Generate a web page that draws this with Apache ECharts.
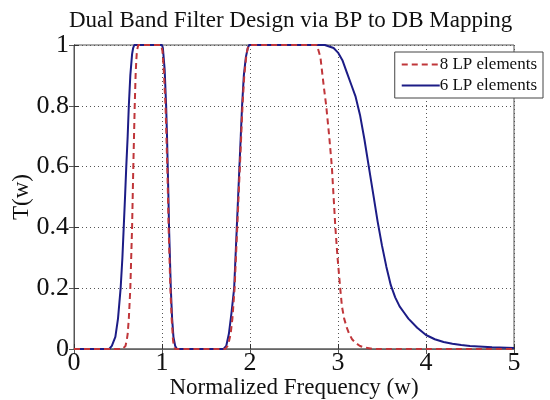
<!DOCTYPE html>
<html>
<head>
<meta charset="utf-8">
<script src="https://cdn.jsdelivr.net/npm/echarts@6/dist/echarts.min.js"></script>
<style>html,body{margin:0;padding:0;background:#fff}#c{width:550px;height:400px}</style>
</head>
<body>
<div id="c"></div>
<script>
const titleText = "Dual Band Filter Design via BP to DB Mapping";
const xName = "Normalized Frequency (w)";
const yName = "T(w)";
const seriesNames = ["8 LP elements", "6 LP elements"];

// 8 LP elements (red dashed)
const freq8 = [0, 0.55, 0.585, 0.60, 0.61, 0.623, 0.64, 0.65, 0.66, 0.667, 0.674, 0.682, 0.69, 0.70, 0.708, 0.715, 0.73,
  0.99, 1.005, 1.02, 1.04, 1.05, 1.06, 1.068, 1.075, 1.085, 1.095, 1.11, 1.125, 1.135, 1.15,
  1.72, 1.745, 1.765, 1.78, 1.80, 1.825, 1.84, 1.855, 1.87, 1.885, 1.90, 1.915, 1.935, 1.96, 1.975, 1.99,
  2.76, 2.80, 2.82, 2.84, 2.866, 2.90, 2.93, 2.95, 2.97, 2.995, 3.025, 3.045, 3.07, 3.10, 3.127, 3.16, 3.2, 3.25, 3.3, 3.4, 5];
const t8 = [0, 0, 0.01, 0.03, 0.05, 0.1, 0.2, 0.3, 0.4, 0.5, 0.6, 0.7, 0.8, 0.9, 0.95, 0.98, 1.0,
  1.0, 0.98, 0.92, 0.8, 0.7, 0.6, 0.5, 0.4, 0.3, 0.2, 0.1, 0.03, 0.01, 0,
  0, 0.01, 0.03, 0.05, 0.1, 0.2, 0.3, 0.4, 0.5, 0.6, 0.7, 0.8, 0.9, 0.97, 0.99, 1.0,
  1.0, 0.96, 0.91, 0.86, 0.8, 0.7, 0.6, 0.5, 0.4, 0.3, 0.2, 0.14, 0.1, 0.07, 0.05, 0.032, 0.02, 0.01, 0.005, 0, 0];

// 6 LP elements (blue solid)
const freq6 = [0, 0.40, 0.43, 0.47, 0.50, 0.53, 0.55, 0.565, 0.58, 0.594, 0.61, 0.623, 0.64, 0.66, 0.672, 0.685,
  1.0, 1.01, 1.03, 1.047, 1.057, 1.065, 1.073, 1.08, 1.09, 1.10, 1.115, 1.13, 1.15, 1.17,
  1.70, 1.73, 1.76, 1.79, 1.82, 1.835, 1.85, 1.865, 1.88, 1.895, 1.91, 1.93, 1.953, 1.975, 1.99,
  2.85, 2.95, 3.0, 3.05, 3.1, 3.15, 3.2, 3.25, 3.3, 3.35, 3.4, 3.45, 3.5, 3.55, 3.6, 3.65, 3.7, 3.75, 3.8, 3.9, 4.0,
  4.1, 4.2, 4.3, 4.4, 4.5, 4.75, 5];
const t6 = [0, 0, 0.01, 0.04, 0.1, 0.2, 0.3, 0.4, 0.5, 0.6, 0.7, 0.8, 0.9, 0.97, 0.99, 1.0,
  1.0, 0.99, 0.92, 0.8, 0.7, 0.6, 0.5, 0.4, 0.3, 0.2, 0.1, 0.04, 0.01, 0,
  0, 0.01, 0.05, 0.12, 0.2, 0.3, 0.4, 0.5, 0.6, 0.7, 0.8, 0.9, 0.96, 0.99, 1.0,
  1.0, 0.99, 0.975, 0.95, 0.91, 0.87, 0.83, 0.77, 0.69, 0.6, 0.51, 0.42, 0.34, 0.27, 0.21, 0.17, 0.14, 0.12, 0.1, 0.07, 0.046,
  0.032, 0.023, 0.017, 0.013, 0.01, 0.006, 0.003];

const xTicks = [0, 1, 2, 3, 4, 5];
const yTicks = [0, 0.2, 0.4, 0.6, 0.8, 1];

const pairs = (xs, ys) => xs.map((x, i) => [x, ys[i]]);
const font = "Liberation Serif";

const chart = echarts.init(document.getElementById('c'), null, {renderer: 'canvas'});
const gridLine = {show: true, lineStyle: {color: '#555', width: 1, type: [1, 3]}};
chart.setOption({
  animation: false,
  backgroundColor: '#fff',
  title: {
    text: titleText, left: 64, top: 4,
    textStyle: {fontFamily: font, fontSize: 23, fontWeight: 'normal', color: '#111'}
  },
  legend: {
    data: seriesNames, orient: 'vertical', right: 7, top: 52,
    backgroundColor: '#fff', borderColor: '#444', borderWidth: 1,
    padding: [4, 6, 4, 6], itemGap: 4, itemWidth: 38, itemHeight: 14,
    itemStyle: {opacity: 0},
    textStyle: {fontFamily: font, fontSize: 17, color: '#111', padding: [0, 0, 0, -5]}
  },
  grid: {left: 74, right: 36, top: 45, bottom: 51, show: true, borderColor: '#555', borderWidth: 1,
    containLabel: false, outerBoundsMode: 'none'},
  xAxis: [{
    type: 'value', min: xTicks[0], max: xTicks[xTicks.length - 1], interval: 1,
    name: xName, nameLocation: 'middle', nameGap: 27, nameMoveOverlap: false,
    nameTextStyle: {fontFamily: font, fontSize: 23, color: '#111', verticalAlign: 'top'},
    axisLine: {show: true, onZero: false, lineStyle: {color: '#333'}},
    axisTick: {show: true, inside: true, length: 5, lineStyle: {color: '#333'}},
    axisLabel: {fontFamily: font, fontSize: 26, color: '#111', margin: 1},
    splitLine: gridLine
  }, {
    type: 'value', position: 'top', min: 0, max: 5, interval: 1,
    axisLine: {show: true, lineStyle: {color: '#777', width: 1.5}},
    axisTick: {show: true, inside: true, length: 5, lineStyle: {color: '#555'}},
    axisLabel: {show: false}, splitLine: {show: false}
  }],
  yAxis: [{
    type: 'value', min: yTicks[0], max: yTicks[yTicks.length - 1], interval: 0.2,
    name: yName, nameLocation: 'middle', nameGap: 41, nameMoveOverlap: false,
    nameTextStyle: {fontFamily: font, fontSize: 23, color: '#111'},
    axisLine: {show: true, onZero: false, lineStyle: {color: '#333'}},
    axisTick: {show: true, inside: true, length: 5, lineStyle: {color: '#333'}},
    axisLabel: {fontFamily: font, fontSize: 26, color: '#111', margin: 5},
    splitLine: gridLine
  }, {
    type: 'value', position: 'right', min: 0, max: 1, interval: 0.2,
    axisLine: {show: true, lineStyle: {color: '#555'}},
    axisTick: {show: true, inside: true, length: 5, lineStyle: {color: '#555'}},
    axisLabel: {show: false}, splitLine: {show: false}
  }],
  series: [{
    name: seriesNames[0], type: 'line', data: pairs(freq8, t8),
    symbol: 'none', z: 3,
    lineStyle: {color: '#c0363a', width: 2, type: [6, 4]},
    itemStyle: {color: '#c0363a'}
  }, {
    name: seriesNames[1], type: 'line', data: pairs(freq6, t6),
    symbol: 'none', z: 2,
    lineStyle: {color: '#1c1c86', width: 2},
    itemStyle: {color: '#1c1c86'}
  }]
});
</script>
</body>
</html>
